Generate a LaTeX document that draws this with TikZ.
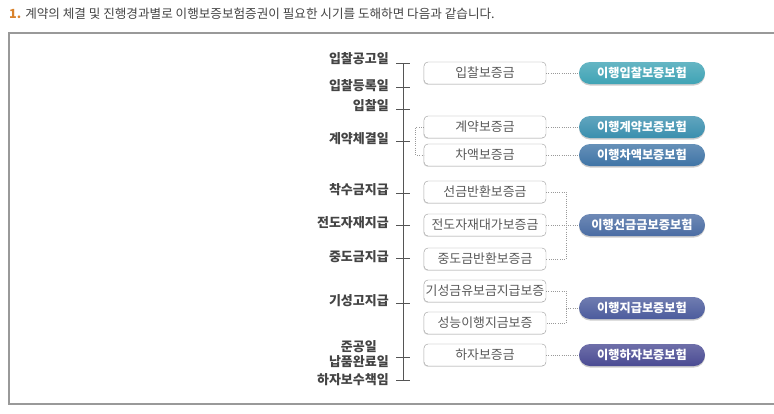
\documentclass[tikz,border=0pt]{standalone}
\usepackage{fontspec}
\setmainfont{Noto Sans CJK KR}
\usepackage{tikz}
\usetikzlibrary{positioning, shadows}

\definecolor{frameGray}{HTML}{999999}
\definecolor{lineGray}{HTML}{555555}
\definecolor{labelText}{HTML}{444444}
\definecolor{boxText}{HTML}{5A5A5A}
\definecolor{numOrange}{HTML}{D9822B}
\definecolor{polA}{HTML}{3FA3B5}
\definecolor{polB}{HTML}{3A8FAE}
\definecolor{polC}{HTML}{3F74A6}
\definecolor{polD}{HTML}{4A6CA3}
\definecolor{polE}{HTML}{4C5C9D}
\definecolor{polF}{HTML}{4A4B93}

\begin{document}
\begin{tikzpicture}[x=1pt, y=-1pt]
    % Define styles
    \tikzset{
        every node/.style={inner sep=0pt},
        date/.style={anchor=east, align=center, text=labelText, font=\fontsize{13}{15}\selectfont\bfseries},
        guar/.style={rectangle, draw=frameGray, rounded corners=4pt, minimum width=122pt, minimum height=22pt, text=boxText, font=\fontsize{12.9}{14}\selectfont, fill=white, drop shadow={shadow xshift=-0.6pt, shadow yshift=-0.8pt, opacity=0.25, fill=gray}},
        pol/.style={rectangle, rounded corners=11pt, minimum width=126pt, minimum height=22pt, text=white, font=\fontsize{12.2}{14}\selectfont\bfseries, top color=#1!80!white, bottom color=#1, drop shadow={shadow xshift=0pt, shadow yshift=-1.5pt, opacity=0.2, fill=black}},
        dotline/.style={draw=gray!80, line width=0.8pt, dash pattern=on 0.8pt off 1.4pt},
        tick/.style={draw=lineGray, line width=0.9pt}
    }

    \useasboundingbox (0,0) rectangle (774,413);

    % Heading and frame
    \node (title) [anchor=west, text=labelText, font=\fontsize{12.6}{14}\selectfont] at (9,14)
        {\textcolor{numOrange}{\bfseries 1.}\hspace{4pt}계약의 체결 및 진행경과별로 이행보증보험증권이 필요한 시기를 도해하면 다음과 같습니다.};
    \draw [frameGray, line width=1.3pt] (775,33) -- (9,33) -- (9,404) -- (775,404);

    % Time line ticks
    \coordinate (T1) at (403,63);
    \coordinate (T2) at (403,87);
    \coordinate (T3) at (403,109);
    \coordinate (T4) at (403,141);
    \coordinate (T5) at (403,193);
    \coordinate (T6) at (403,225);
    \coordinate (T7) at (403,258);
    \coordinate (T8) at (403,303);
    \coordinate (T9) at (403,357);
    \coordinate (T10) at (403,380);
    \draw [tick] (T1) -- (T10);
    \foreach \t in {1,...,10}
        \draw [tick] ([xshift=-7pt]T\t) -- ([xshift=7pt]T\t);

    % Dates
    \node (D1) [date] at (389,59) {입찰공고일};
    \node (D2) [date] at (389,86) {입찰등록일};
    \node (D3) [date] at (389,106) {입찰일};
    \node (D4) [date] at (389,139) {계약체결일};
    \node (D5) [date] at (389,190) {착수금지급};
    \node (D6) [date] at (389,223) {전도자재지급};
    \node (D7) [date] at (389,257) {중도금지급};
    \node (D8) [date] at (389,301) {기성고지급};
    \node (D9) [date] at (389,354) {준공일\\납품완료일};
    \node (D10) [date] at (389,380) {하자보수책임};

    % Guarantees
    \node (G1) [guar] at (485,73) {입찰보증금};
    \node (G2) [guar] at (485,127) {계약보증금};
    \node (G3) [guar] at (485,155) {차액보증금};
    \node (G4) [guar] at (485,192) {선금반환보증금};
    \node (G5) [guar] at (485,225) {전도자재대가보증금};
    \node (G6) [guar] at (485,259) {중도금반환보증금};
    \node (G7) [guar] at (485,291) {기성금유보금지급보증};
    \node (G8) [guar] at (485,323) {성능이행지금보증};
    \node (G9) [guar] at (485,355) {하자보증금};

    % Insurance policies
    \node (P1) [pol=polA] at (642,73) {이행입찰보증보험};
    \node (P2) [pol=polB] at (642,127) {이행계약보증보험};
    \node (P3) [pol=polC] at (642,155) {이행차액보증보험};
    \node (P4) [pol=polD] at (642,225) {이행선금금보증보험};
    \node (P5) [pol=polE] at (642,308) {이행지급보증보험};
    \node (P6) [pol=polF] at (642,355) {이행하자보증보험};

    % Dotted links
    \coordinate (J1) at (566,225);
    \coordinate (J2) at (566,308);
    \draw [dotline] (G2.west) -- ++(-8,0) |- (G3.west);
    \draw [dotline] (G1) -- (P1);
    \draw [dotline] (G2) -- (P2);
    \draw [dotline] (G3) -- (P3);
    \draw [dotline] (G4.east) -| (J1) |- (G6.east);
    \draw [dotline] (G5) -- (P4);
    \draw [dotline] (G7.east) -| (J2) |- (G8.east);
    \draw [dotline] (J2) -- (P5);
    \draw [dotline] (G9) -- (P6);

\end{tikzpicture}
\end{document}
